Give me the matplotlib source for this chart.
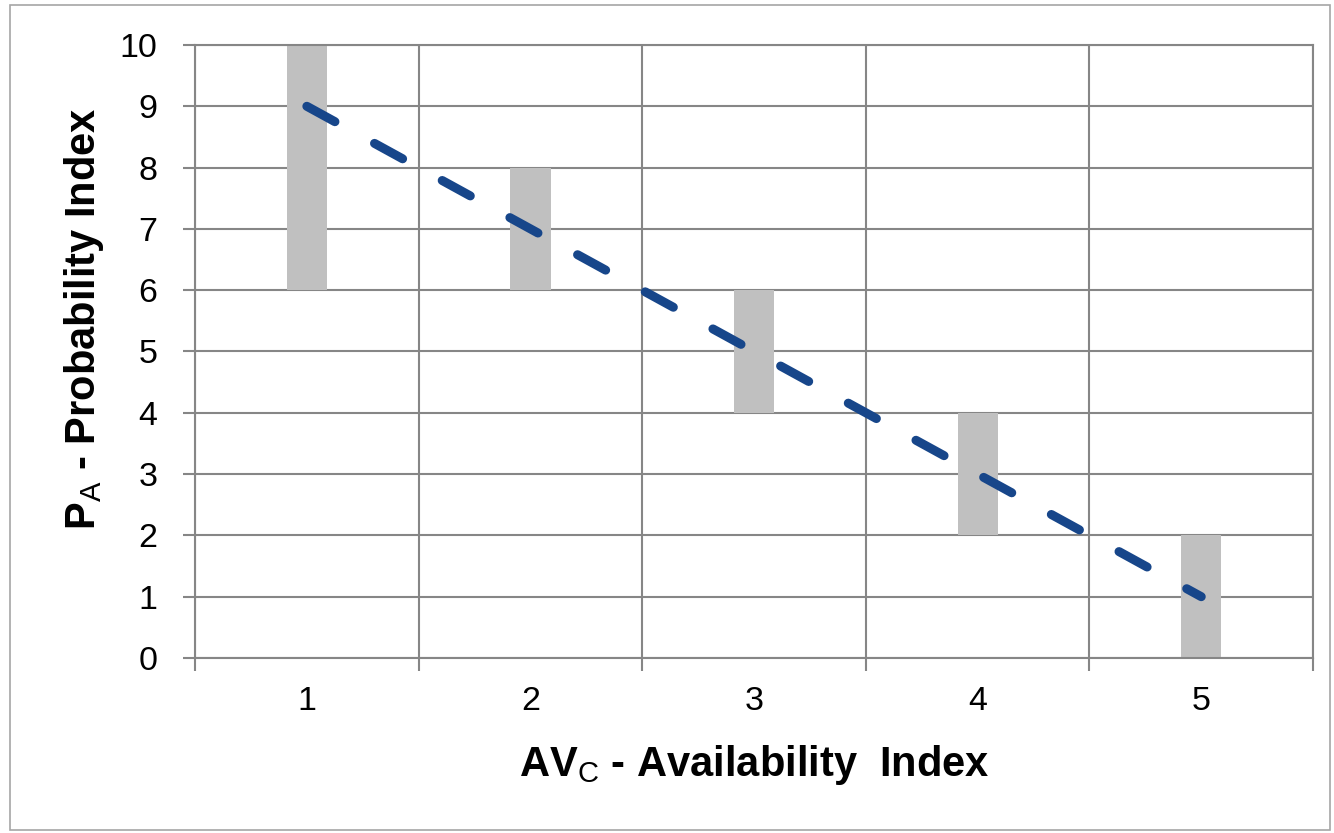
import matplotlib
matplotlib.use("Agg")
import matplotlib.pyplot as plt
from matplotlib.patches import Rectangle
import numpy as np

# availability categories and probability ranges
categories = [1, 2, 3, 4, 5]
range_low = [6, 6, 4, 2, 0]
range_high = [10, 8, 6, 4, 2]
trend = [9, 7, 5, 3, 1]
y_ticks = list(range(0, 11))

plt.rcParams['font.family'] = ['Liberation Sans', 'DejaVu Sans']
plt.rcParams['mathtext.fontset'] = 'custom'
plt.rcParams['mathtext.rm'] = 'Liberation Sans'
plt.rcParams['mathtext.bf'] = 'Liberation Sans:bold'

grid_col = '#868686'

fig = plt.figure(figsize=(13.34, 8.33), dpi=100)
ax = fig.add_axes([0.1462, 0.2101, 0.8381, 0.7359])

x = np.array(categories)
heights = np.array(range_high) - np.array(range_low)
ax.bar(x, heights, bottom=range_low, width=0.18, color='#C0C0C0', zorder=2)
ax.plot(x, trend, color='#17468A', lw=6.5, dashes=(3.55, 5.0),
        dash_capstyle='round', zorder=3)

ax.set_xlim(0.5, 5.5)
ax.set_ylim(0, 10)
ax.set_xticks(categories)
ax.set_xticks(np.arange(0.5, 5.6, 1.0), minor=True)
ax.set_yticks(y_ticks)

ax.tick_params(axis='x', which='major', length=0, pad=20, labelsize=24.5)
ax.tick_params(axis='x', which='minor', length=9, width=1.5, color=grid_col,
               direction='out')
ax.tick_params(axis='y', length=9, width=1.5, color=grid_col, pad=18,
               labelsize=24.5)

ax.grid(True, which='minor', axis='x', color=grid_col, lw=1.5, zorder=1)
ax.grid(True, which='major', axis='y', color=grid_col, lw=1.5, zorder=1)
ax.set_axisbelow(True)
for s in ax.spines.values():
    s.set_color(grid_col)
    s.set_linewidth(1.5)

ax.set_xlabel(r'$\mathbf{AV}_{\mathrm{C}}$' + ' - Availability  Index',
              fontsize=30, fontweight='bold', labelpad=19)
ax.set_ylabel(r'$\mathbf{P}_{\mathrm{A}}$' + ' - Probability Index',
              fontsize=30, fontweight='bold')
ax.yaxis.set_label_coords(-0.08, 0.553)

fig.patches.append(Rectangle((10 / 1334, 3 / 833), 1320 / 1334, 825 / 833,
                             transform=fig.transFigure, fill=False,
                             edgecolor='#A6A6A6', lw=1.2))

fig.savefig('out.png', dpi=100)
